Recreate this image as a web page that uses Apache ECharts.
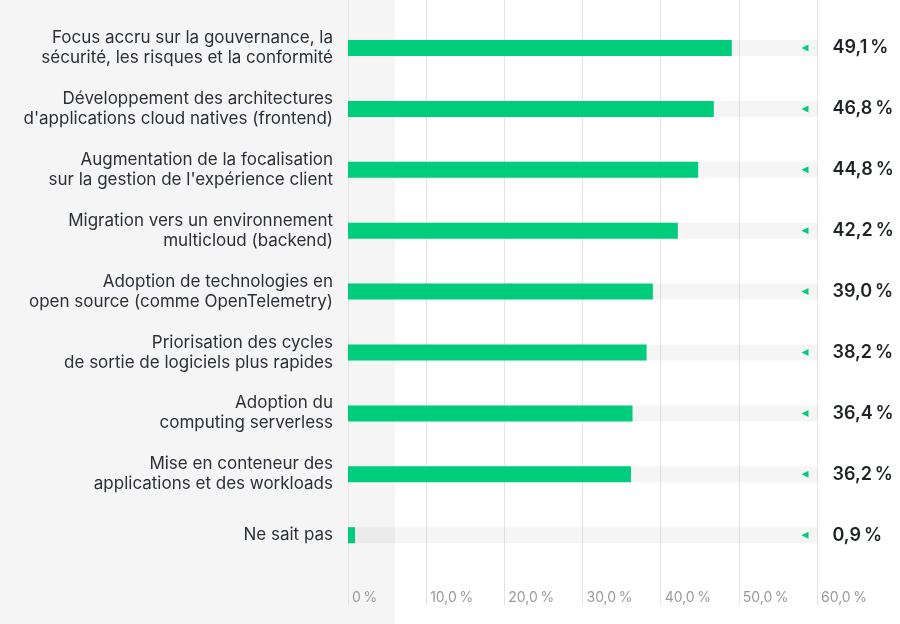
<!DOCTYPE html>
<html>
<head>
<meta charset="utf-8">
<script src="https://cdn.jsdelivr.net/npm/echarts@6/dist/echarts.min.js"></script>
<style>html,body{margin:0;padding:0;background:#fff}#c{width:900px;height:624px}</style>
</head>
<body>
<div id="c"></div>
<script>
const categories = [
  "Focus accru sur la gouvernance, la\nsécurité, les risques et la conformité",
  "Développement des architectures\nd'applications cloud natives (frontend)",
  "Augmentation de la focalisation\nsur la gestion de l'expérience client",
  "Migration vers un environnement\nmulticloud (backend)",
  "Adoption de technologies en\nopen source (comme OpenTelemetry)",
  "Priorisation des cycles\nde sortie de logiciels plus rapides",
  "Adoption du\ncomputing serverless",
  "Mise en conteneur des\napplications et des workloads",
  "Ne sait pas"
];
const values = [49.1, 46.8, 44.8, 42.2, 39.0, 38.2, 36.4, 36.2, 0.9];
const axisMax = 60;
const axisInterval = 10;

const GREEN = '#00cd7c';
const fmt = v => v.toFixed(1).replace('.', ',') + '\u202f%';

const chart = echarts.init(document.getElementById('c'), null, {renderer: 'canvas'});
chart.setOption({
  animation: false,
  backgroundColor: '#ffffff',
  textStyle: {fontFamily: 'Inter, "Noto Sans", sans-serif'},
  graphic: [{
    type: 'rect', left: 0, top: 0, z: -10,
    shape: {width: 395, height: 624},
    style: {fill: '#f5f5f5'}
  }],
  grid: [
    {left: 348, right: 83, top: 0, bottom: 19},
    {left: 348, right: 83, top: 17.6, bottom: 58.4}
  ],
  xAxis: [
    {
      gridIndex: 0, type: 'value', min: 0, max: axisMax, interval: axisInterval,
      position: 'bottom',
      axisLine: {show: false}, axisTick: {show: false},
      splitLine: {show: true, lineStyle: {color: '#e3e3e3', width: 1}},
      axisLabel: {
        inside: true, margin: 0, align: 'left', padding: [0, 0, 0, 4],
        color: '#9a9a9a', fontSize: 14,
        formatter: v => v === 0 ? '0\u202f%' : fmt(v)
      }
    },
    {
      gridIndex: 1, type: 'value', min: 0, max: axisMax, interval: axisInterval,
      show: false
    }
  ],
  yAxis: [
    {gridIndex: 0, type: 'category', data: [''], show: false},
    {
      gridIndex: 1, type: 'category', data: categories, inverse: true,
      axisLine: {show: false}, axisTick: {show: false},
      axisLabel: {
        margin: 15, color: '#2b2f36', fontSize: 17, lineHeight: 20, align: 'right',
        padding: [0, 0, 5, 0]
      }
    }
  ],
  series: [
    {
      type: 'bar', xAxisIndex: 1, yAxisIndex: 1, data: values,
      barWidth: 16,
      itemStyle: {color: GREEN},
      showBackground: true,
      backgroundStyle: {color: 'rgba(0,0,0,0.04)'},
      z: 3
    },
    {
      type: 'scatter', xAxisIndex: 1, yAxisIndex: 1,
      data: values.map(() => axisMax),
      symbol: 'triangle', symbolSize: [7, 7], symbolRotate: 90,
      symbolOffset: [-12, 0],
      itemStyle: {color: GREEN, opacity: 1},
      label: {
        show: true, position: 'right', distance: 24,
        color: '#1f2328', fontSize: 18, fontWeight: 600,
        formatter: p => fmt(values[p.dataIndex])
      },
      z: 4
    }
  ]
});
</script>
</body>
</html>
